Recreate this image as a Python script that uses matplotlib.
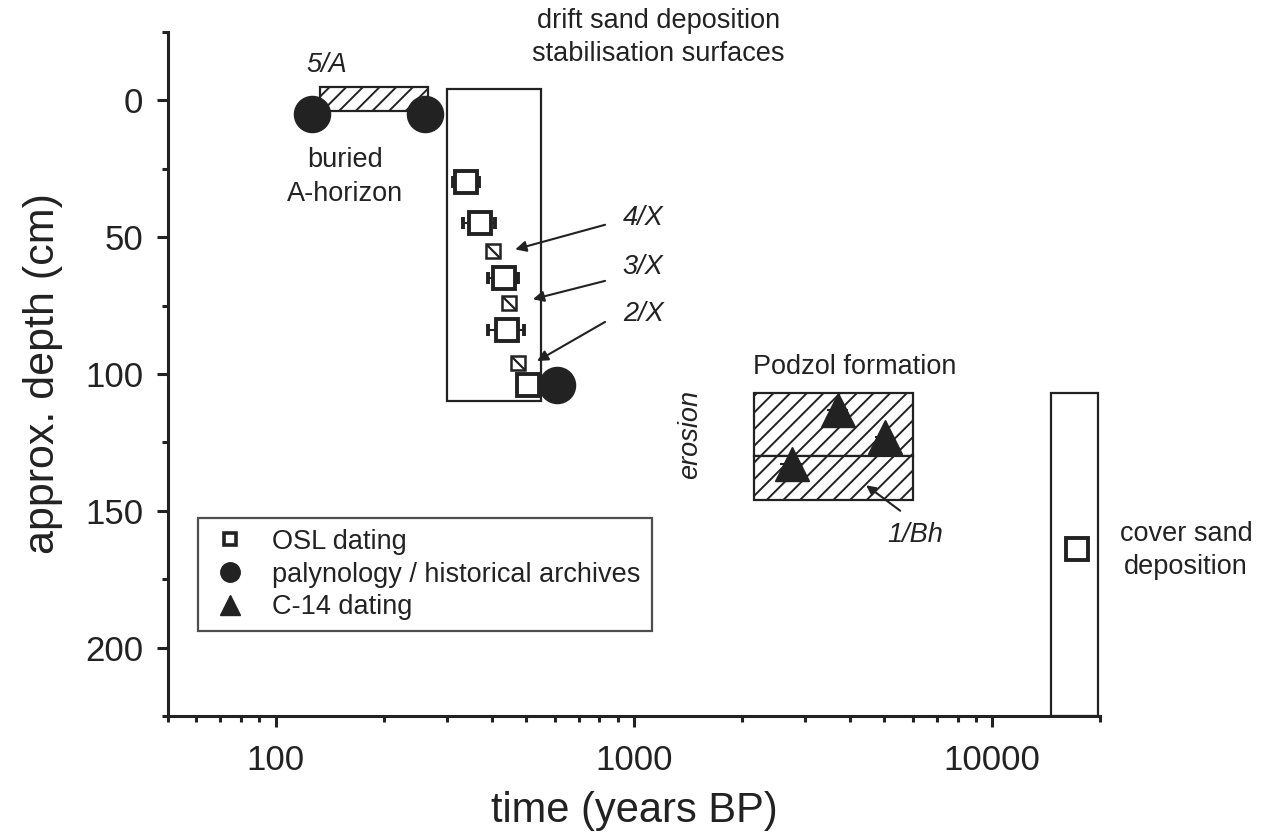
import matplotlib
matplotlib.use("Agg")
import matplotlib.pyplot as plt
import numpy as np
from matplotlib.patches import Rectangle
from matplotlib.lines import Line2D
from matplotlib.path import Path
from matplotlib.ticker import FixedLocator, LogLocator, NullFormatter

plt.rcParams['font.family'] = ['Liberation Sans', 'DejaVu Sans']
plt.rcParams['hatch.linewidth'] = 1.4
ink = '#222222'

# OSL dates (years BP) with depth (cm) and x-error
osl_age = [340, 372, 433, 442, 506, 17300]
osl_depth = [30, 45, 65, 84, 104, 164]
osl_err = [28, 38, 42, 50, 0, 0]

# stabilisation surface samples (X horizons)
x_age = [404, 448, 474]
x_depth = [55, 74, 96]

# palynology / historical archives
pal_age = [126, 261, 610]
pal_depth = [5, 5, 104]

# C-14 dates
c14_age = [3715, 5020, 2760]
c14_depth = [113, 123, 133]
c14_err = [250, 300, 200]

# boxes: (x0, x1, top depth, bottom depth)
box_5a = (133, 266, -5, 4)
box_drift = (300, 550, -4, 110)
box_podzol_top = (2160, 6000, 107, 130)
box_podzol_bot = (2160, 6000, 130, 146)
box_cover = (14600, 19800, 107, 225)

fig = plt.figure(figsize=(12.76, 8.4), dpi=100)
ax = fig.add_axes([0.1317, 0.1476, 0.7304, 0.8145])
ax.set_xscale('log')
ax.set_xlim(50, 20000)
ax.set_ylim(225, -25)


def box(b, hatch=None, lw=1.6):
    x0, x1, y0, y1 = b
    ax.add_patch(Rectangle((x0, y0), x1 - x0, y1 - y0, facecolor='white',
                           edgecolor=ink, hatch=hatch, lw=lw, zorder=2,
                           clip_on=False))


box(box_5a, '//')
box(box_drift)
box(box_podzol_top, '//')
box(box_podzol_bot, '//')
box(box_cover)

# markers
ax.errorbar(osl_age, osl_depth, xerr=osl_err, fmt='s', ms=16, mfc='white',
            mec=ink, mew=2.8, ecolor=ink, elinewidth=1.5, capsize=4,
            capthick=1.5, zorder=4, clip_on=False)
ax.plot(x_age, x_depth, 's', ms=10, mfc='white', mec=ink, mew=1.8, zorder=4)
diag = Path([(-1, 1), (1, -1)], [Path.MOVETO, Path.LINETO])
ax.plot(x_age, x_depth, ls='none', marker=diag, ms=9, mec=ink, mew=1.6,
        zorder=5)
ax.plot(pal_age, pal_depth, 'o', ms=26, color=ink, zorder=3, clip_on=False)
ax.errorbar(c14_age, c14_depth, xerr=c14_err, fmt='^', ms=24, color=ink,
            elinewidth=1.5, capsize=0, zorder=4)

# axes styling
for s in ['top', 'right']:
    ax.spines[s].set_visible(False)
for s in ['left', 'bottom']:
    ax.spines[s].set_linewidth(2.2)
    ax.spines[s].set_color(ink)
ax.yaxis.set_major_locator(FixedLocator([0, 50, 100, 150, 200]))
ax.yaxis.set_minor_locator(FixedLocator([-25, 25, 75, 125, 175, 225]))
ax.xaxis.set_major_locator(FixedLocator([100, 1000, 10000]))
ax.xaxis.set_minor_locator(LogLocator(base=10, subs=np.arange(2, 10)))
ax.xaxis.set_minor_formatter(NullFormatter())
ax.set_xticklabels(['100', '1000', '10000'])
ax.tick_params(which='major', direction='out', length=8, width=2.2,
               labelsize=25, pad=10, colors=ink)
ax.tick_params(axis='x', which='major', pad=12)
ax.tick_params(which='minor', direction='out', length=4.5, width=2.2,
               colors=ink)
ax.set_xlabel('time (years BP)', fontsize=30, color=ink, labelpad=10)
ax.set_ylabel('approx. depth (cm)', fontsize=31, color=ink, labelpad=16)

# annotations
fs = 19.5
ls = 1.38
ax.text(1167, -23, 'drift sand deposition\nstabilisation surfaces', fontsize=fs,
        ha='center', va='center', color=ink, linespacing=ls)
ax.text(139, -13, '5/A', fontsize=fs, style='italic', ha='center',
        va='center', color=ink)
ax.text(156, 28, 'buried\nA-horizon', fontsize=fs, ha='center', va='center',
        color=ink, linespacing=ls)
for lab, ty, tail, head in [('4/X', 43, (830, 45.5), (466, 54.5)),
                            ('3/X', 61, (830, 66), (522, 72.7)),
                            ('2/X', 78, (830, 81), (536, 95.3))]:
    ax.text(930, ty, lab, fontsize=fs, style='italic', ha='left',
            va='center', color=ink)
    ax.annotate('', xy=head, xytext=tail,
                arrowprops=dict(arrowstyle='-|>', color=ink, lw=1.5,
                                mutation_scale=16, shrinkA=0, shrinkB=0))
ax.text(4140, 97.5, 'Podzol formation', fontsize=fs, ha='center',
        va='center', color=ink)
ax.text(1432, 122, 'erosion', fontsize=fs, style='italic', rotation=90,
        ha='center', va='center', color=ink)
ax.text(6100, 159, '1/Bh', fontsize=fs, style='italic', ha='center',
        va='center', color=ink)
ax.annotate('', xy=(4446, 140.7), xytext=(5535, 150),
            arrowprops=dict(arrowstyle='-|>', color=ink, lw=1.5,
                            mutation_scale=14, shrinkA=0, shrinkB=0))
ax.text(34800, 164.5, 'cover sand\ndeposition', fontsize=fs, ha='center',
        va='center', color=ink, linespacing=ls)

# legend
handles = [
    Line2D([], [], ls='none', marker='s', ms=8, mfc='white', mec=ink, mew=2.6),
    Line2D([], [], ls='none', marker='o', ms=14, color=ink),
    Line2D([], [], ls='none', marker='^', ms=15, color=ink),
]
labels = ['OSL dating', 'palynology / historical archives', 'C-14 dating']
leg = ax.legend(handles, labels, loc='lower left',
                bbox_to_anchor=(0.032, 0.124), fontsize=fs, frameon=True,
                fancybox=False, edgecolor=ink, borderpad=0.4,
                labelspacing=0.25, handletextpad=0.75, handlelength=1.6,
                borderaxespad=0)
leg.get_frame().set_linewidth(1.6)
for t in leg.get_texts():
    t.set_color(ink)

fig.savefig('out.png', dpi=100)
